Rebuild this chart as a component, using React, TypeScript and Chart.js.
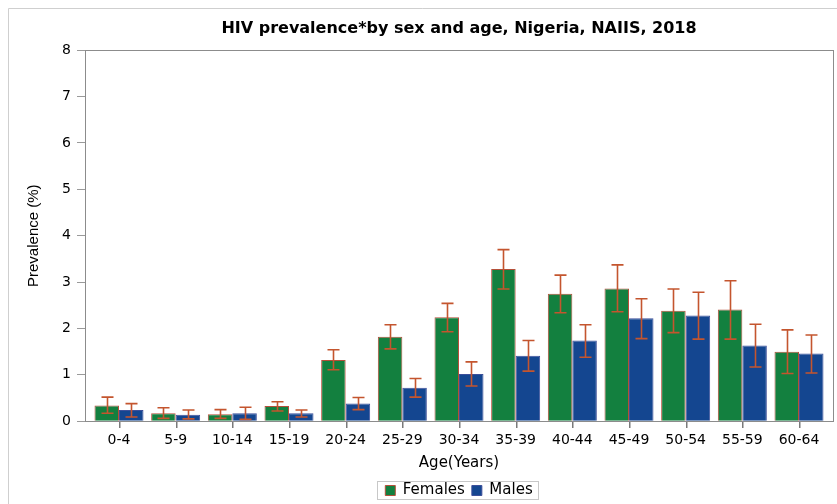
import React, { useEffect, useRef } from "react";
import { Chart, registerables } from "chart.js";

Chart.register(...registerables);

const ageGroups = ["0-4", "5-9", "10-14", "15-19", "20-24", "25-29", "30-34", "35-39", "40-44", "45-49", "50-54", "55-59", "60-64"];
const femalesPrev = [0.34, 0.17, 0.15, 0.33, 1.32, 1.82, 2.24, 3.28, 2.75, 2.86, 2.38, 2.41, 1.5];
const femalesLow = [0.17, 0.06, 0.06, 0.22, 1.11, 1.56, 1.93, 2.85, 2.34, 2.36, 1.91, 1.77, 1.03];
const femalesHigh = [0.52, 0.29, 0.25, 0.42, 1.54, 2.08, 2.54, 3.7, 3.15, 3.37, 2.85, 3.03, 1.97];
const malesPrev = [0.24, 0.14, 0.17, 0.17, 0.38, 0.72, 1.02, 1.41, 1.74, 2.22, 2.28, 1.63, 1.46];
const malesLow = [0.09, 0.05, 0.04, 0.09, 0.25, 0.52, 0.76, 1.08, 1.38, 1.78, 1.77, 1.17, 1.04];
const malesHigh = [0.38, 0.24, 0.3, 0.24, 0.51, 0.92, 1.28, 1.74, 2.08, 2.64, 2.78, 2.09, 1.86];

const FONT = "'DejaVu Sans', 'Liberation Sans', Arial, sans-serif";
const FONT_V = "'Liberation Sans', Arial, sans-serif";
const GREEN = "#13803f";
const BLUE = "#144690";
const ERR = "#c4552e";

const framePlugin = {
  id: "frames",
  afterLayout(chart: any) {
    const a = chart.chartArea;
    if (!a) return;
    const cx = (a.left + a.right) / 2;
    const lg = chart.legend;
    if (lg) {
      const shift = cx - (lg.left + lg.right) / 2;
      lg.left += shift;
      lg.right += shift;
      lg.top += 4;
      lg.bottom += 4;
    }
    const tb = chart.titleBlock;
    if (tb) {
      const shift = cx - (tb.left + tb.right) / 2;
      tb.left += shift;
      tb.right += shift;
    }
  },
  beforeDraw(chart: any) {
    const ctx = chart.ctx;
    ctx.save();
    ctx.fillStyle = "#ffffff";
    ctx.fillRect(0, 0, chart.width, chart.height);
    ctx.strokeStyle = "#cfcfcf";
    ctx.lineWidth = 1;
    ctx.beginPath();
    ctx.moveTo(8.5, chart.height);
    ctx.lineTo(8.5, 8.5);
    ctx.lineTo(chart.width, 8.5);
    ctx.stroke();
    ctx.restore();
  },
  afterDraw(chart: any) {
    const ctx = chart.ctx;
    const a = chart.chartArea;
    const xs = chart.scales.x;
    ctx.save();
    ctx.lineWidth = 1;
    ctx.strokeStyle = "#8c8c8c";
    ctx.strokeRect(Math.round(a.left) + 0.5, Math.round(a.top) + 0.5, Math.round(a.right - a.left), Math.round(a.bottom - a.top));
    ctx.fillStyle = "#7a7a7a";
    for (let i = 0; i < ageGroups.length; i++) {
      const x = Math.round(xs.getPixelForValue(i));
      ctx.fillRect(x, Math.round(a.bottom) + 1, 1.5, 6);
    }
    const lg = chart.legend;
    if (lg && lg.legendHitBoxes && lg.legendHitBoxes.length) {
      let l = Infinity, r = -Infinity, t = Infinity, b = -Infinity;
      lg.legendHitBoxes.forEach((h: any) => {
        l = Math.min(l, h.left);
        r = Math.max(r, h.left + h.width);
        t = Math.min(t, h.top);
        b = Math.max(b, h.top + h.height);
      });
      ctx.strokeStyle = "#c8c8c8";
      ctx.strokeRect(Math.round(l - 8) + 0.5, Math.round(t - 2) + 0.5, Math.round(r - l + 14), Math.round(b - t + 3));
    }
    ctx.restore();
  },
};

const errorBarPlugin = {
  id: "errorBars",
  afterDatasetsDraw(chart: any) {
    const ctx = chart.ctx;
    const ys = chart.scales.y;
    const sets = [
      [femalesLow, femalesHigh],
      [malesLow, malesHigh],
    ];
    ctx.save();
    ctx.strokeStyle = ERR;
    ctx.lineWidth = 1.6;
    sets.forEach(([lo, hi], di) => {
      const meta = chart.getDatasetMeta(di);
      meta.data.forEach((bar: any, i: number) => {
        const x = Math.round(bar.x) + 0.5;
        const y1 = ys.getPixelForValue(lo[i]);
        const y2 = ys.getPixelForValue(hi[i]);
        ctx.beginPath();
        ctx.moveTo(x, y1);
        ctx.lineTo(x, y2);
        ctx.moveTo(x - 6, y1);
        ctx.lineTo(x + 6, y1);
        ctx.moveTo(x - 6, y2);
        ctx.lineTo(x + 6, y2);
        ctx.stroke();
      });
    });
    ctx.restore();
  },
};

export default function App() {
  const ref = useRef<HTMLCanvasElement>(null);
  useEffect(() => {
    if (!ref.current) return;
    const chart = new Chart(ref.current, {
      type: "bar",
      data: {
        datasets: [
          {
            label: "Females",
            data: femalesPrev.map((v, i) => ({ x: i, y: v })),
            backgroundColor: GREEN,
            borderColor: "#b4503a",
            borderWidth: 1,
          },
          {
            label: "Males",
            data: malesPrev.map((v, i) => ({ x: i, y: v })),
            backgroundColor: BLUE,
            borderColor: "#3c4f9a",
            borderWidth: 1,
          },
        ],
      },
      plugins: [framePlugin, errorBarPlugin],
      options: {
        responsive: false,
        animation: false,
        devicePixelRatio: 1,
        categoryPercentage: 0.865,
        barPercentage: 1,
        layout: { padding: { top: 19, right: 4, left: 0, bottom: 0 } },
        plugins: {
          tooltip: { enabled: false },
          title: {
            display: true,
            text: "HIV prevalence*by sex and age, Nigeria, NAIIS, 2018",
            color: "#000",
            font: { family: FONT, size: 16, weight: "bold" },
            padding: { top: 0, bottom: 12 },
          },
          legend: {
            position: "bottom",
            labels: {
              color: "#000",
              font: { family: FONT, size: 15 },
              boxWidth: 10,
              boxHeight: 10,
              padding: 7,
            },
          },
        },
        scales: {
          x: {
            type: "linear",
            offset: false,
            min: -0.6,
            max: 12.6,
            afterBuildTicks: (s: any) => {
              s.ticks = ageGroups.map((_, i) => ({ value: i }));
            },
            ticks: {
              autoSkip: false,
              maxRotation: 0,
              color: "#000",
              font: { family: FONT, size: 14 },
              padding: 5,
              callback: (v: any) => ageGroups[v as number],
            },
            grid: { display: true, drawOnChartArea: false, drawTicks: true, tickLength: 6, color: "rgba(0,0,0,0)" },
            border: { display: false },
            title: {
              display: true,
              text: "Age(Years)",
              color: "#000",
              font: { family: FONT, size: 15 },
              padding: { top: 0, bottom: 0 },
            },
          },
          y: {
            min: 0,
            max: 8,
            afterFit: (s: any) => {
              s.width = 85;
            },
            ticks: {
              stepSize: 1,
              color: "#000",
              font: { family: FONT, size: 14 },
              padding: 6,
            },
            grid: { drawOnChartArea: false, tickLength: 8, color: "#9a9a9a" },
            border: { display: false },
            title: {
              display: true,
              text: "Prevalence (%)",
              color: "#000",
              font: { family: FONT_V, size: 15 },
              padding: { top: 25, bottom: 0 },
            },
          },
        },
      },
    });
    return () => chart.destroy();
  }, []);
  return (
    <div style={{ position: "fixed", left: 0, top: 0, width: 837, height: 504, background: "#fff" }}>
      <canvas ref={ref} width={837} height={504} style={{ display: "block", width: 837, height: 504 }} />
    </div>
  );
}
